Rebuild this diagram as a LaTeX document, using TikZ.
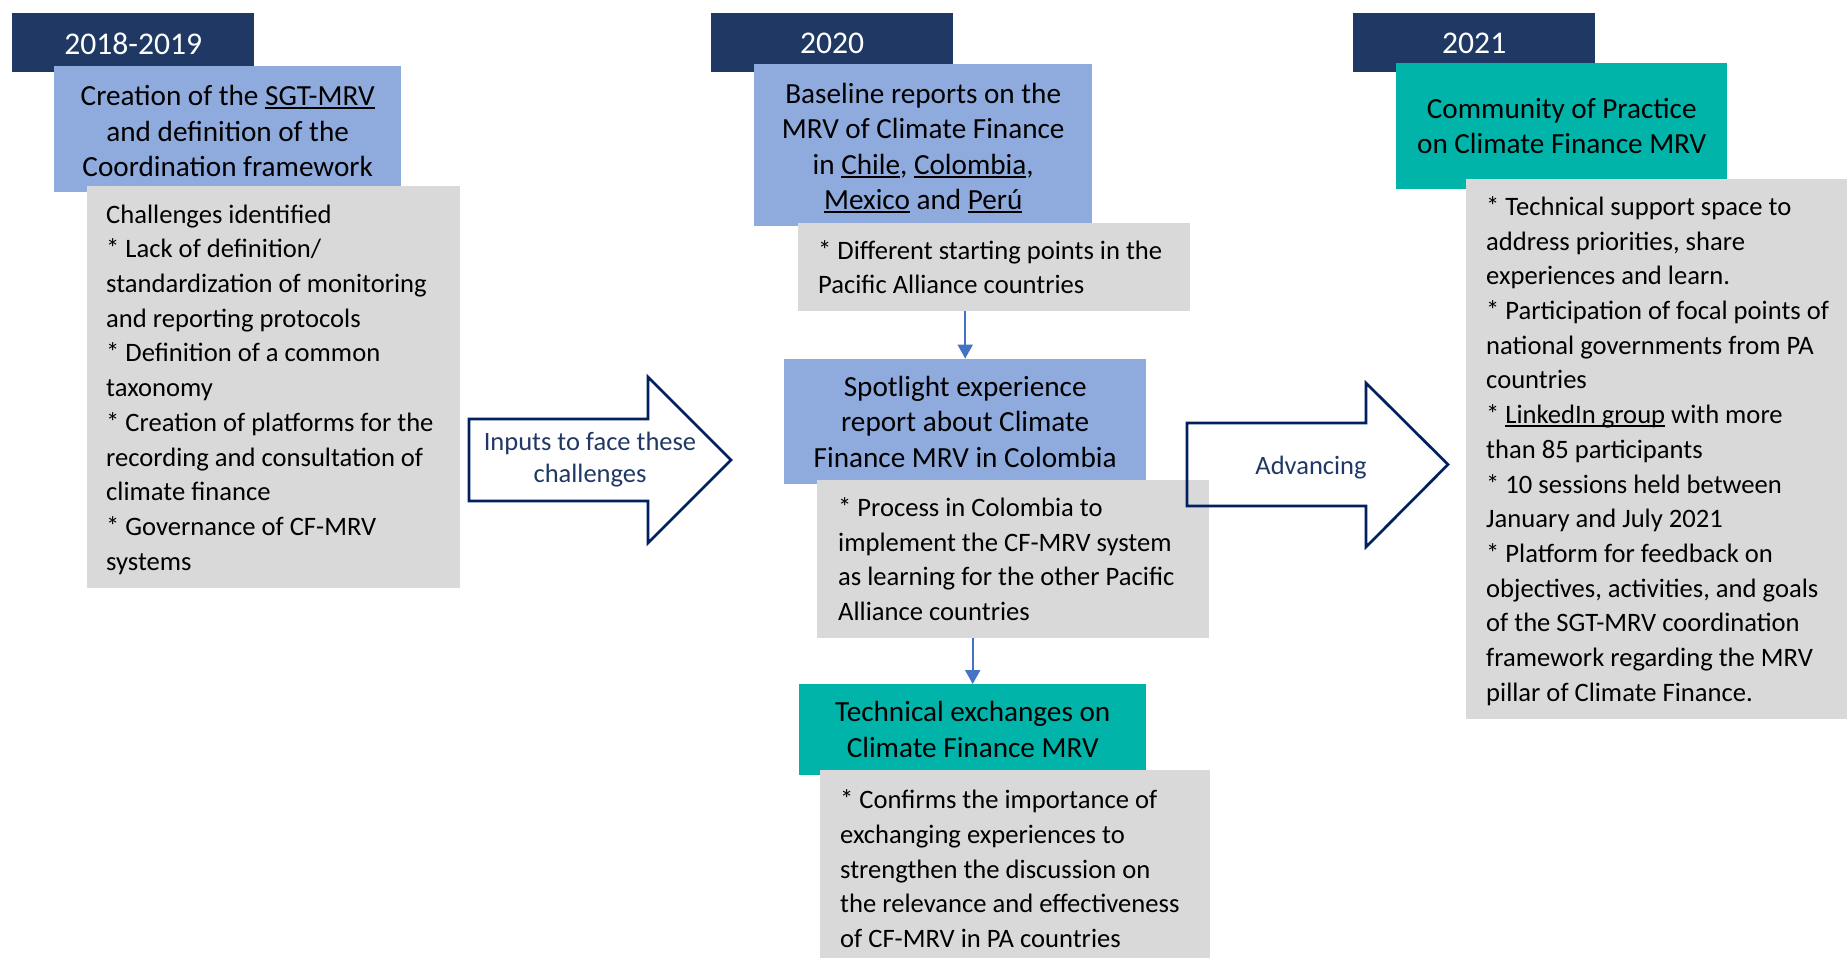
\documentclass[tikz,border=0pt]{standalone}
\usepackage{fontspec}
\setmainfont{Carlito}
\usetikzlibrary{arrows.meta}
\definecolor{navy}{HTML}{203864}
\definecolor{bluebox}{HTML}{8FAADC}
\definecolor{tealbox}{HTML}{00B4AA}
\definecolor{graybox}{HTML}{D9D9D9}
\definecolor{connblue}{HTML}{4472C4}
\definecolor{arrline}{HTML}{002060}
\newsavebox\ulbox
\newcommand\ulx[1]{\sbox\ulbox{#1}\rlap{\rule[-0.12em]{\wd\ulbox}{0.065em}}\usebox\ulbox}
\newcommand\gtext[2]{\raisebox{-2.5pt}[\height][\depth]{\makebox[#1pt][l]{\begin{tabular}{@{}l@{}}#2\end{tabular}}}}
\newcommand\ttext[2]{\raisebox{#1}[\height][\depth]{\begin{tabular}{@{}c@{}}#2\end{tabular}}}
\newcommand\ytext[1]{\raisebox{-1pt}[\height][\depth]{#1}}
\newcommand\bul{{}* }
\begin{document}
\begin{tikzpicture}[x=1pt,y=-1pt,
  year/.style={fill=navy, text=white, font=\fontsize{31.6}{38}\selectfont, anchor=north west, inner sep=0pt, minimum width=242pt, minimum height=59pt},
  titlebox/.style={anchor=north west, inner sep=0pt, align=center, font=\fontsize{29.2}{35.5}\selectfont},
  graybox/.style={fill=graybox, anchor=north west, inner ysep=0pt, font=\fontsize{26.6}{34.7}\selectfont},
  conn/.style={draw=connblue, line width=2pt, -{Triangle[width=15pt,length=14pt]}},
  bigarrow/.style={draw=arrline, line width=2.7pt, line join=miter},
  arrowtext/.style={text=navy, align=center, inner sep=0pt, font=\fontsize{26.5}{32}\selectfont}]
\useasboundingbox (0,0) rectangle (1847,958);

% column 1
\node[year] (y1) at (12,13) {\ytext{2018-2019}};
\node[titlebox, fill=bluebox, minimum width=347pt, minimum height=126pt] (b1) at (54,66)
  {\ttext{-5pt}{Creation of the \ulx{SGT-MRV}\\and definition of the\\Coordination framework}};
\node[graybox, minimum width=373pt, minimum height=402pt, inner xsep=19pt] (g1) at (87,186)
  {\gtext{335}{Challenges identified\\
  \bul Lack of definition/\\
  standardization of monitoring\\
  and reporting protocols\\
  \bul Definition of a common\\
  taxonomy\\
  \bul Creation of platforms for the\\
  recording and consultation of\\
  climate finance\\
  \bul Governance of CF-MRV\\
  systems}};

% column 2
\node[year] (y2) at (711,13) {\ytext{2020}};
\node[titlebox, fill=bluebox, minimum width=338pt, minimum height=162pt] (b2) at (754,64)
  {\ttext{-4pt}{Baseline reports on the\\MRV of Climate Finance\\in \ulx{Chile}, \ulx{Colombia},\\\ulx{Mexico} and \ulx{Perú}}};
\node[graybox, minimum width=392pt, minimum height=88pt, inner xsep=20pt] (g2) at (798,223)
  {\gtext{352}{\bul Different starting points in the\\
  Pacific Alliance countries}};
\node[titlebox, fill=bluebox, minimum width=362pt, minimum height=125.5pt] (b3) at (784,358.6)
  {Spotlight experience\\report about Climate\\Finance MRV in Colombia};
\node[graybox, minimum width=392pt, minimum height=158pt, inner xsep=21pt] (g3) at (817,480)
  {\gtext{350}{\bul Process in Colombia to\\
  implement the CF-MRV system\\
  as learning for the other Pacific\\
  Alliance countries}};
\node[titlebox, fill=tealbox, minimum width=347pt, minimum height=91pt] (t4) at (799,684)
  {Technical exchanges on\\Climate Finance MRV};
\node[graybox, minimum width=390pt, minimum height=197pt, inner xsep=20pt] (g4) at (820,770)
  {\gtext{350}{\bul Confirms the importance of\\
  exchanging experiences to\\
  strengthen the discussion on\\
  the relevance and effectiveness\\
  of CF-MRV in PA countries}};

% column 3
\node[year] (y3) at (1353,13) {\ytext{2021}};
\node[titlebox, fill=tealbox, minimum width=331pt, minimum height=126pt] (t5) at (1396,63)
  {Community of Practice\\on Climate Finance MRV};
\node[graybox, minimum width=400pt, minimum height=539.5pt, inner xsep=20pt] (g5) at (1466,179)
  {\gtext{360}{\bul Technical support space to\\
  address priorities, share\\
  experiences and learn.\\
  \bul Participation of focal points of\\
  national governments from PA\\
  countries\\
  \bul \ulx{LinkedIn group} with more\\
  than 85 participants\\
  \bul 10 sessions held between\\
  January and July 2021\\
  \bul Platform for feedback on\\
  objectives, activities, and goals\\
  of the SGT-MRV coordination\\
  framework regarding the MRV\\
  pillar of Climate Finance.}};

% connectors
\draw[conn] (b3.north |- g2.south) -- (b3.north);
\draw[conn] (t4.north |- g3.south) -- (t4.north);

% big arrows
\draw[bigarrow] (469,419) -- (648,419) -- (648,377) -- (731,460) -- (648,543) -- (648,501) -- (469,501) -- cycle;
\node[arrowtext] (a1) at (590,460) {Inputs to face these\\challenges};
\draw[bigarrow] (1187,423) -- (1366,423) -- (1366,383) -- (1448,464.5) -- (1366,547) -- (1366,506) -- (1187,506) -- cycle;
\node[arrowtext] (a2) at (1311,468) {Advancing};
\end{tikzpicture}
\end{document}
